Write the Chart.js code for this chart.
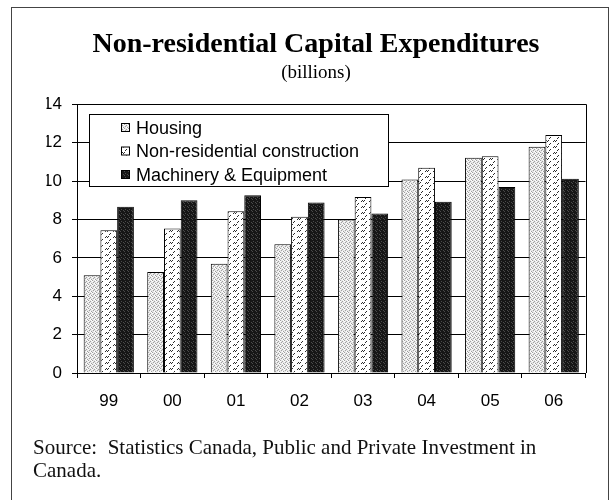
<!DOCTYPE html>
<html>
<head>
<meta charset="utf-8">
<script src="https://cdn.jsdelivr.net/npm/chart.js@4.4.0/dist/chart.umd.min.js"></script>
<style>
  html, body { margin: 0; padding: 0; background: #fff; }
  #wrap { position: relative; width: 613px; height: 500px; overflow: hidden; }
  #frame { position: absolute; left: 11px; top: 7px; width: 596px; height: 520px;
           border-left: 1px solid #444; border-top: 1px solid #444; border-right: 1px solid #444; }
  canvas { position: absolute; left: 0; top: 0; }
  #source { position: absolute; left: 33px; top: 436px; font-family: "Liberation Serif", "Times New Roman", serif;
            font-size: 21px; line-height: 23px; color: #111; white-space: nowrap; }
</style>
</head>
<body>
<div id="wrap">
  <div id="frame"></div>
  <canvas id="c" width="613" height="500"></canvas>
  <div id="source">Source:&nbsp; Statistics Canada, Public and Private Investment in<br>Canada.</div>
</div>
<script>
// ---- data ----
const categories = ['99', '00', '01', '02', '03', '04', '05', '06'];
const housing    = [5.10, 5.27, 5.70, 6.71, 8.00, 10.09, 11.22, 11.79];
const nonres     = [7.44, 7.53, 8.43, 8.14, 9.17, 10.70, 11.30, 12.40];
const machinery  = [8.66, 9.01, 9.27, 8.89, 8.31, 8.92, 9.70, 10.12];
const seriesNames = ['Housing', 'Non-residential construction', 'Machinery & Equipment'];
const yTicks = [0, 2, 4, 6, 8, 10, 12, 14];
const titleText = 'Non-residential Capital Expenditures';
const subtitleText = '(billions)';

// ---- patterns ----
function tile(w, h, draw) {
  const c = document.createElement('canvas');
  c.width = w; c.height = h;
  const g = c.getContext('2d');
  draw(g);
  return document.getElementById('c').getContext('2d').createPattern(c, 'repeat');
}
const patHousing = tile(4, 4, g => {
  g.fillStyle = '#e8e8e8'; g.fillRect(0, 0, 4, 4);
  g.fillStyle = '#a0a0a0';
  g.fillRect(0, 0, 1, 1); g.fillRect(2, 1, 1, 1); g.fillRect(1, 2, 1, 1); g.fillRect(3, 3, 1, 1);
  g.fillStyle = '#ffffff';
  g.fillRect(2, 3, 1, 1); g.fillRect(3, 0, 1, 1); g.fillRect(0, 1, 1, 1);
});
const patNonres = tile(8, 6, g => {
  g.fillStyle = '#ffffff'; g.fillRect(0, 0, 8, 6);
  g.fillStyle = '#2a2a2a';
  g.fillRect(1, 3, 1, 1); g.fillRect(2, 2, 1, 1);
  g.fillRect(3, 3, 1, 1); g.fillRect(4, 2, 1, 1);
  g.fillRect(5, 0, 1, 1); g.fillRect(6, 5, 1, 1);
});
const patMach = tile(4, 4, g => {
  g.fillStyle = '#161616'; g.fillRect(0, 0, 4, 4);
  g.fillStyle = '#4a4a4a';
  g.fillRect(1, 1, 1, 1); g.fillRect(3, 2, 1, 1); g.fillRect(0, 3, 1, 1);
});
const patterns = [patHousing, patNonres, patMach];

// ---- plugins ----
const framePlugin = {
  id: 'frame',
  afterDraw(chart) {
    const a = chart.chartArea, ctx = chart.ctx;
    ctx.save();
    ctx.strokeStyle = '#000'; ctx.lineWidth = 1;
    ctx.beginPath();
    ctx.moveTo(a.left, Math.round(a.top) + 0.5);
    ctx.lineTo(Math.round(a.right) + 0.5, Math.round(a.top) + 0.5);
    ctx.lineTo(Math.round(a.right) + 0.5, a.bottom);
    ctx.stroke();
    ctx.restore();
  }
};
const boxLegend = {
  id: 'boxLegend',
  afterDraw(chart) {
    const ctx = chart.ctx;
    const x0 = 89.5, y0 = 114.5, w = 299, h = 72;
    ctx.save();
    ctx.fillStyle = '#fff'; ctx.fillRect(x0, y0, w, h);
    ctx.strokeStyle = '#000'; ctx.lineWidth = 1; ctx.strokeRect(x0, y0, w, h);
    ctx.font = '18px "Liberation Sans", Arial, sans-serif';
    ctx.textBaseline = 'middle';
    chart.data.datasets.forEach((ds, i) => {
      const cy = 128 + i * 23.5;
      ctx.fillStyle = ds.backgroundColor;
      ctx.fillRect(121, cy - 4, 8, 8);
      ctx.strokeStyle = '#000';
      ctx.strokeRect(121.5, cy - 4.5, 8, 8);
      ctx.fillStyle = '#000';
      ctx.fillText(ds.label, 136, cy + 1);
    });
    ctx.restore();
  }
};

const datasets = [housing, nonres, machinery].map((d, i) => ({
  label: seriesNames[i],
  data: d,
  backgroundColor: patterns[i],
  borderColor: '#000',
  borderWidth: 1,
  categoryPercentage: 0.79,
  barPercentage: 1.0
}));

new Chart(document.getElementById('c'), {
  type: 'bar',
  data: { labels: categories, datasets },
  options: {
    responsive: false,
    animation: false,
    layout: { padding: { left: 46.5, right: 27.5, top: 0, bottom: 0 } },
    plugins: {
      legend: { display: false },
      tooltip: { enabled: false },
      title: {
        display: true, text: titleText, color: '#000',
        font: { family: '"Liberation Serif", "Times New Roman", serif', size: 28, weight: 'bold', lineHeight: 1.2 },
        padding: { top: 28, bottom: 0 }
      },
      subtitle: {
        display: true, text: subtitleText, color: '#000',
        font: { family: '"Liberation Serif", "Times New Roman", serif', size: 19, weight: 'normal', lineHeight: 1.2 },
        padding: { top: 0, bottom: 20 }
      }
    },
    scales: {
      x: {
        grid: { display: true, drawOnChartArea: false, drawTicks: true, tickLength: 5, color: '#000', offset: true },
        border: { display: true, color: '#000', width: 1 },
        ticks: { color: '#000', padding: 13, font: { family: '"Liberation Sans", Arial, sans-serif', size: 17 } },
        afterFit(s) { s.height = 127; }
      },
      y: {
        min: 0, max: 14,
        afterBuildTicks(s) { s.ticks = yTicks.map(v => ({ value: v })); },
        grid: { color: '#000', tickLength: 5, lineWidth: 1 },
        border: { display: true, color: '#000', width: 1 },
        ticks: { color: '#000', padding: 10, font: { family: '"Liberation Sans", Arial, sans-serif', size: 17 } },
        afterFit(s) { s.width = 30.5; }
      }
    }
  },
  plugins: [framePlugin, boxLegend]
});
</script>
</body>
</html>
